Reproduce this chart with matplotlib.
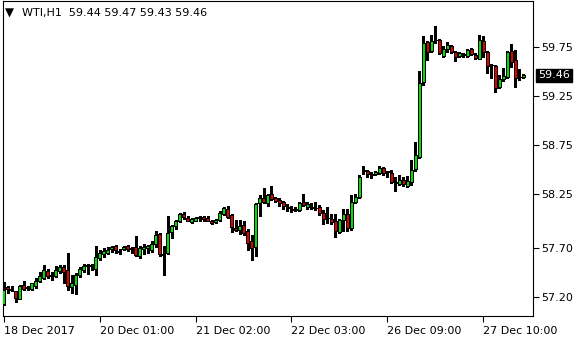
import matplotlib
matplotlib.use("Agg")
import matplotlib.pyplot as plt
import numpy as np

opens = [57.13, 57.30, 57.28, 57.26, 57.18, 57.32, 57.29, 57.28, 57.31, 57.36,
         57.39, 57.47, 57.41, 57.41, 57.46, 57.51, 57.48, 57.30, 57.32, 57.42,
         57.48, 57.52, 57.53, 57.49, 57.60, 57.64, 57.65, 57.69, 57.72, 57.67,
         57.69, 57.72, 57.70, 57.71, 57.62, 57.69, 57.70, 57.68, 57.74, 57.84,
         57.64, 57.65, 57.86, 57.92, 57.97, 58.05, 58.01, 57.96, 57.98, 58.01,
         58.02, 58.01, 57.98, 57.96, 57.99, 58.05, 58.10, 58.04, 57.90, 57.88,
         57.93, 57.87, 57.77, 57.71, 58.16, 58.21, 58.16, 58.25, 58.21, 58.19,
         58.17, 58.12, 58.10, 58.09, 58.09, 58.17, 58.12, 58.12, 58.11, 58.12,
         58.06, 58.01, 58.00, 57.98, 57.86, 57.99, 58.05, 57.90, 58.17, 58.22,
         58.50, 58.49, 58.45, 58.45, 58.46, 58.52, 58.48, 58.46, 58.37, 58.35,
         58.39, 58.33, 58.37, 58.51, 58.63, 59.39, 59.80, 59.71, 59.82, 59.82,
         59.66, 59.73, 59.76, 59.70, 59.66, 59.67, 59.66, 59.73, 59.67, 59.63,
         59.81, 59.70, 59.57, 59.56, 59.34, 59.42, 59.44, 59.71, 59.62, 59.44,
         59.44]
highs = [57.35, 57.31, 57.31, 57.26, 57.32, 57.36, 57.31, 57.34, 57.39, 57.45,
         57.53, 57.49, 57.45, 57.52, 57.53, 57.53, 57.65, 57.42, 57.44, 57.51,
         57.54, 57.54, 57.54, 57.72, 57.68, 57.70, 57.71, 57.72, 57.73, 57.69,
         57.72, 57.73, 57.71, 57.82, 57.72, 57.74, 57.73, 57.77, 57.87, 57.85,
         57.72, 58.03, 57.93, 57.99, 58.06, 58.07, 58.03, 58.01, 58.02, 58.03,
         58.03, 58.03, 57.99, 58.00, 58.08, 58.12, 58.13, 58.05, 57.99, 57.99,
         57.97, 57.89, 57.83, 58.16, 58.24, 58.31, 58.25, 58.33, 58.22, 58.21,
         58.18, 58.15, 58.13, 58.12, 58.17, 58.25, 58.17, 58.16, 58.17, 58.14,
         58.09, 58.12, 58.05, 58.05, 58.00, 58.10, 58.10, 58.24, 58.25, 58.44,
         58.54, 58.50, 58.47, 58.48, 58.54, 58.53, 58.49, 58.50, 58.42, 58.44,
         58.42, 58.43, 58.60, 58.78, 59.50, 59.86, 59.81, 59.87, 59.96, 59.83,
         59.76, 59.80, 59.77, 59.71, 59.70, 59.69, 59.73, 59.74, 59.69, 59.87,
         59.86, 59.71, 59.58, 59.57, 59.46, 59.54, 59.71, 59.78, 59.72, 59.53,
         59.47]
lows = [57.12, 57.24, 57.26, 57.15, 57.18, 57.27, 57.27, 57.27, 57.29, 57.35,
        57.38, 57.39, 57.37, 57.40, 57.44, 57.34, 57.27, 57.24, 57.23, 57.40,
        57.45, 57.43, 57.48, 57.42, 57.58, 57.61, 57.64, 57.66, 57.65, 57.64,
        57.68, 57.67, 57.65, 57.62, 57.60, 57.64, 57.65, 57.66, 57.71, 57.62,
        57.42, 57.64, 57.80, 57.89, 57.96, 58.00, 57.97, 57.95, 57.97, 57.98,
        57.98, 57.97, 57.94, 57.95, 57.97, 58.04, 58.01, 57.86, 57.87, 57.84,
        57.83, 57.68, 57.58, 57.62, 58.03, 58.16, 58.13, 58.19, 58.17, 58.13,
        58.10, 58.08, 58.07, 58.08, 58.08, 58.13, 58.10, 58.10, 58.09, 58.04,
        57.94, 57.95, 57.94, 57.81, 57.85, 57.87, 57.87, 57.88, 58.16, 58.21,
        58.45, 58.42, 58.41, 58.44, 58.45, 58.44, 58.42, 58.36, 58.28, 58.34,
        58.33, 58.32, 58.34, 58.49, 58.62, 59.36, 59.62, 59.70, 59.79, 59.68,
        59.65, 59.70, 59.69, 59.61, 59.65, 59.65, 59.65, 59.67, 59.63, 59.63,
        59.65, 59.48, 59.43, 59.29, 59.33, 59.40, 59.43, 59.55, 59.34, 59.41,
        59.43]
closes = [57.27, 57.28, 57.27, 57.19, 57.31, 57.28, 57.30, 57.34, 57.36, 57.41,
          57.48, 57.41, 57.42, 57.48, 57.51, 57.45, 57.31, 57.34, 57.42, 57.49,
          57.52, 57.53, 57.52, 57.61, 57.65, 57.67, 57.68, 57.71, 57.68, 57.66,
          57.71, 57.69, 57.69, 57.63, 57.70, 57.71, 57.72, 57.74, 57.83, 57.64,
          57.63, 57.85, 57.92, 57.97, 58.05, 58.02, 57.98, 58.00, 58.01, 58.02,
          58.00, 57.98, 57.95, 57.99, 58.06, 58.11, 58.02, 57.91, 57.88, 57.92,
          57.85, 57.75, 57.70, 58.15, 58.21, 58.17, 58.24, 58.20, 58.18, 58.16,
          58.13, 58.11, 58.09, 58.10, 58.16, 58.14, 58.15, 58.11, 58.11, 58.06,
          58.00, 58.01, 57.96, 57.87, 57.99, 58.05, 57.90, 58.17, 58.22, 58.42,
          58.48, 58.45, 58.44, 58.47, 58.52, 58.46, 58.47, 58.37, 58.36, 58.39,
          58.35, 58.38, 58.50, 58.65, 59.38, 59.79, 59.70, 59.81, 59.82, 59.69,
          59.73, 59.77, 59.70, 59.65, 59.69, 59.68, 59.72, 59.68, 59.64, 59.82,
          59.70, 59.56, 59.57, 59.33, 59.42, 59.45, 59.70, 59.60, 59.43, 59.44,
          59.46]

xtick_bars = [0, 24, 48, 72, 96, 120]
xtick_labels = ["18 Dec 2017", "20 Dec 01:00", "21 Dec 02:00",
                "22 Dec 03:00", "26 Dec 09:00", "27 Dec 10:00"]
ytick_values = [57.20, 57.70, 58.25, 58.75, 59.25, 59.75]
title_symbol = "WTI,H1"
last_price = 59.46

plt.rcParams['font.family'] = ['DejaVu Sans']

fig = plt.figure(figsize=(5.8, 3.4), dpi=100)
ax = fig.add_axes([3 / 580, 24 / 340, 530 / 580, 315 / 340])

o = np.array(opens); h = np.array(highs); l = np.array(lows); c = np.array(closes)
x = np.arange(len(o))
bull = c >= o

ax.vlines(x, l, h, color='black', linewidth=0.75, antialiased=False, zorder=2)
bottom = np.minimum(o, c)
height = np.maximum(np.abs(c - o), 0.0005)
colors = np.where(bull, '#00E000', '#E00000')
ax.bar(x, height, bottom=bottom, width=0.78, color=colors, edgecolor='black',
       linewidth=0.6, antialiased=False, zorder=3)

ax.set_xlim(-0.15, 132.4)
ax.set_ylim(57.006, 60.219)

ax.yaxis.tick_right()
ax.set_yticks(ytick_values)
ax.set_yticklabels([f"{v:.2f}" for v in ytick_values])
ax.set_xticks(xtick_bars)
ax.set_xticklabels(xtick_labels, ha='left')
ax.tick_params(axis='both', direction='out', length=4, width=0.8,
               labelsize=8, colors='black', pad=2)
ax.tick_params(axis='x', pad=3)

for s in ax.spines.values():
    s.set_linewidth(0.8)
    s.set_color('black')

ax.text(1.0 + 5 / 530, last_price, f"{last_price:.2f}",
        transform=ax.get_yaxis_transform(),
        ha='left', va='center', fontsize=8, color='white',
        bbox=dict(boxstyle='square,pad=0.15', facecolor='black', edgecolor='black'),
        zorder=10, clip_on=False)

ax.text(2 / 530, 1 - 12 / 315, "\u25BC", transform=ax.transAxes, fontsize=8.5,
        ha='left', va='center', color='black')
ax.text(19 / 530, 1 - 12 / 315,
        f"{title_symbol}  {opens[-1]:.2f} {highs[-1]:.2f} {lows[-1]:.2f} {closes[-1]:.2f}",
        transform=ax.transAxes, fontsize=8, ha='left', va='center', color='black')

fig.savefig("out.png", dpi=100, facecolor='white')
